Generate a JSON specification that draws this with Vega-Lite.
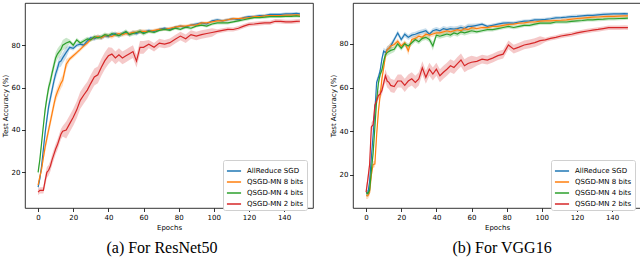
{
"$schema":"https://vega.github.io/schema/vega-lite/v6.json",
"padding":{"left":0,"top":2,"right":0,"bottom":0},
"config":{
 "font":"DejaVu Sans",
 "view":{"stroke":"#000","strokeWidth":0.8},
 "axis":{"grid":false,"labelFontSize":7,"titleFontSize":7,"titleFontWeight":"normal","labelColor":"#000","titleColor":"#000","tickColor":"#000","domain":false,"tickSize":3.5,"tickWidth":0.8,"labelPadding":1.5,"titlePadding":3},
 "legend":{"orient":"none","legendX":198,"legendY":157,"title":null,"labelFontSize":7,"labelColor":"#000","symbolType":"stroke","symbolSize":200,"symbolStrokeWidth":1.5,"symbolOpacity":1,"strokeColor":"#d0d0d0","fillColor":"#ffffff","cornerRadius":2,"padding":3,"rowPadding":-3,"labelOffset":5},
 "title":{"font":"Liberation Serif","fontSize":16,"fontWeight":"normal","color":"#000"},
 "concat":{"spacing":14}
},
"datasets":{
"a":[
{"s":"A","e":0,"y":13,"d":1.5},{"s":"A","e":1,"y":17,"d":1.5},{"s":"A","e":2,"y":23,"d":1.5},{"s":"A","e":3,"y":31,"d":1.5},{"s":"A","e":4,"y":38.6,"d":2.5},{"s":"A","e":5,"y":45,"d":2.5},{"s":"A","e":6,"y":51,"d":2.5},{"s":"A","e":7,"y":55,"d":2.5},{"s":"A","e":8,"y":59,"d":2.5},{"s":"A","e":9,"y":63,"d":2.5},{"s":"A","e":10,"y":66.5,"d":2.5},{"s":"A","e":11,"y":69,"d":2.5},{"s":"A","e":12,"y":72,"d":2.5},{"s":"A","e":13,"y":72.5,"d":2.5},{"s":"A","e":14,"y":74,"d":2.5},{"s":"A","e":16,"y":76.6,"d":2.5},{"s":"A","e":18,"y":79,"d":1},{"s":"A","e":20,"y":78.5,"d":1},{"s":"A","e":22,"y":80,"d":1},{"s":"A","e":24,"y":80.5,"d":1},{"s":"A","e":26,"y":80,"d":1},{"s":"A","e":28,"y":82,"d":1},{"s":"A","e":30,"y":83.5,"d":1},{"s":"A","e":32,"y":83,"d":1},{"s":"A","e":34,"y":84,"d":1},{"s":"A","e":36,"y":83.5,"d":1},{"s":"A","e":38,"y":84.5,"d":1},{"s":"A","e":40,"y":84,"d":1},{"s":"A","e":42,"y":85,"d":1},{"s":"A","e":44,"y":85.5,"d":1},{"s":"A","e":46,"y":84.5,"d":1},{"s":"A","e":48,"y":85.5,"d":1},{"s":"A","e":50,"y":86,"d":1},{"s":"A","e":52,"y":85,"d":1},{"s":"A","e":54,"y":86,"d":1},{"s":"A","e":56,"y":85.5,"d":1},{"s":"A","e":58,"y":86.5,"d":1},{"s":"A","e":60,"y":86,"d":1},{"s":"A","e":63,"y":87,"d":0.7},{"s":"A","e":66,"y":86.5,"d":0.7},{"s":"A","e":69,"y":87.5,"d":0.7},{"s":"A","e":72,"y":88,"d":0.7},{"s":"A","e":75,"y":87.5,"d":0.7},{"s":"A","e":78,"y":88.5,"d":0.7},{"s":"A","e":81,"y":89,"d":0.7},{"s":"A","e":84,"y":88.5,"d":0.7},{"s":"A","e":87,"y":89.5,"d":0.7},{"s":"A","e":90,"y":90,"d":0.7},{"s":"A","e":93,"y":90.5,"d":0.7},{"s":"A","e":96,"y":90,"d":0.7},{"s":"A","e":99,"y":91.5,"d":0.7},{"s":"A","e":102,"y":92,"d":0.7},{"s":"A","e":105,"y":91.5,"d":0.7},{"s":"A","e":108,"y":92,"d":0.7},{"s":"A","e":111,"y":92.5,"d":0.7},{"s":"A","e":114,"y":92,"d":0.7},{"s":"A","e":117,"y":93,"d":0.7},{"s":"A","e":120,"y":93.5,"d":0.7},{"s":"A","e":123,"y":93.5,"d":0.7},{"s":"A","e":126,"y":94,"d":0.7},{"s":"A","e":129,"y":94,"d":0.7},{"s":"A","e":132,"y":94.5,"d":0.7},{"s":"A","e":135,"y":94.5,"d":0.7},{"s":"A","e":138,"y":94.5,"d":0.7},{"s":"A","e":141,"y":94.8,"d":0.7},{"s":"A","e":144,"y":94.8,"d":0.7},{"s":"A","e":147,"y":95,"d":0.7},{"s":"A","e":149,"y":94.8,"d":0.7},
{"s":"B","e":0,"y":14,"d":1.5},{"s":"B","e":1,"y":18,"d":1.5},{"s":"B","e":2,"y":21.5,"d":1.5},{"s":"B","e":3,"y":27,"d":1.5},{"s":"B","e":4,"y":32,"d":2.5},{"s":"B","e":5,"y":36,"d":2.5},{"s":"B","e":6,"y":40,"d":2.5},{"s":"B","e":7,"y":44,"d":2.5},{"s":"B","e":8,"y":48,"d":2.5},{"s":"B","e":9,"y":52,"d":2.5},{"s":"B","e":10,"y":55.7,"d":2.5},{"s":"B","e":11,"y":58,"d":2.5},{"s":"B","e":12,"y":60,"d":2.5},{"s":"B","e":13,"y":62,"d":2.5},{"s":"B","e":14,"y":63.4,"d":2.5},{"s":"B","e":16,"y":71,"d":2.5},{"s":"B","e":18,"y":73.5,"d":1},{"s":"B","e":20,"y":75,"d":1},{"s":"B","e":22,"y":76.5,"d":1},{"s":"B","e":24,"y":78,"d":1},{"s":"B","e":26,"y":79.7,"d":1},{"s":"B","e":28,"y":81,"d":1},{"s":"B","e":30,"y":82.8,"d":1},{"s":"B","e":32,"y":83.5,"d":1},{"s":"B","e":34,"y":84,"d":1},{"s":"B","e":36,"y":83.5,"d":1},{"s":"B","e":38,"y":84.5,"d":1},{"s":"B","e":40,"y":84.5,"d":1},{"s":"B","e":42,"y":84,"d":1},{"s":"B","e":44,"y":85,"d":1},{"s":"B","e":46,"y":85.5,"d":1},{"s":"B","e":48,"y":85,"d":1},{"s":"B","e":50,"y":85.5,"d":1},{"s":"B","e":52,"y":85.5,"d":1},{"s":"B","e":54,"y":86,"d":1},{"s":"B","e":56,"y":86,"d":1},{"s":"B","e":58,"y":86.5,"d":1},{"s":"B","e":60,"y":86.5,"d":1},{"s":"B","e":63,"y":86.5,"d":0.7},{"s":"B","e":66,"y":87,"d":0.7},{"s":"B","e":69,"y":87.5,"d":0.7},{"s":"B","e":72,"y":87.5,"d":0.7},{"s":"B","e":75,"y":88,"d":0.7},{"s":"B","e":78,"y":88.5,"d":0.7},{"s":"B","e":81,"y":89,"d":0.7},{"s":"B","e":84,"y":89,"d":0.7},{"s":"B","e":87,"y":89.5,"d":0.7},{"s":"B","e":90,"y":89.5,"d":0.7},{"s":"B","e":93,"y":90.5,"d":0.7},{"s":"B","e":96,"y":90.5,"d":0.7},{"s":"B","e":99,"y":91,"d":0.7},{"s":"B","e":102,"y":91.5,"d":0.7},{"s":"B","e":105,"y":91.5,"d":0.7},{"s":"B","e":108,"y":92,"d":0.7},{"s":"B","e":111,"y":92.5,"d":0.7},{"s":"B","e":114,"y":92.5,"d":0.7},{"s":"B","e":117,"y":92.8,"d":0.7},{"s":"B","e":120,"y":93,"d":0.7},{"s":"B","e":123,"y":93.5,"d":0.7},{"s":"B","e":126,"y":93.5,"d":0.7},{"s":"B","e":129,"y":93.8,"d":0.7},{"s":"B","e":132,"y":94,"d":0.7},{"s":"B","e":135,"y":94,"d":0.7},{"s":"B","e":138,"y":94,"d":0.7},{"s":"B","e":141,"y":94.2,"d":0.7},{"s":"B","e":144,"y":94.2,"d":0.7},{"s":"B","e":147,"y":94.3,"d":0.7},{"s":"B","e":149,"y":94.2,"d":0.7},
{"s":"C","e":0,"y":20,"d":1.5},{"s":"C","e":1,"y":26,"d":1.5},{"s":"C","e":2,"y":34,"d":1.5},{"s":"C","e":3,"y":42,"d":1.5},{"s":"C","e":4,"y":49.5,"d":2.5},{"s":"C","e":5,"y":55,"d":2.5},{"s":"C","e":6,"y":60,"d":2.5},{"s":"C","e":7,"y":63,"d":2.5},{"s":"C","e":8,"y":67,"d":2.5},{"s":"C","e":9,"y":70.5,"d":2.5},{"s":"C","e":10,"y":74,"d":2.5},{"s":"C","e":11,"y":75.8,"d":2.5},{"s":"C","e":12,"y":77,"d":2.5},{"s":"C","e":13,"y":78,"d":2.5},{"s":"C","e":14,"y":80,"d":2.5},{"s":"C","e":16,"y":81,"d":2.5},{"s":"C","e":18,"y":81.7,"d":1},{"s":"C","e":20,"y":80,"d":1},{"s":"C","e":22,"y":82.5,"d":1},{"s":"C","e":24,"y":81,"d":1},{"s":"C","e":26,"y":82,"d":1},{"s":"C","e":28,"y":83,"d":1},{"s":"C","e":30,"y":82.5,"d":1},{"s":"C","e":32,"y":84,"d":1},{"s":"C","e":34,"y":83.5,"d":1},{"s":"C","e":36,"y":84,"d":1},{"s":"C","e":38,"y":85,"d":1},{"s":"C","e":40,"y":84.5,"d":1},{"s":"C","e":42,"y":85.5,"d":1},{"s":"C","e":44,"y":85,"d":1},{"s":"C","e":46,"y":84.5,"d":1},{"s":"C","e":48,"y":85.5,"d":1},{"s":"C","e":50,"y":86.5,"d":1},{"s":"C","e":52,"y":85,"d":1},{"s":"C","e":54,"y":85.5,"d":1},{"s":"C","e":56,"y":86,"d":1},{"s":"C","e":58,"y":86.5,"d":1},{"s":"C","e":60,"y":85.5,"d":1},{"s":"C","e":63,"y":86.5,"d":0.7},{"s":"C","e":66,"y":86,"d":0.7},{"s":"C","e":69,"y":87,"d":0.7},{"s":"C","e":72,"y":87.5,"d":0.7},{"s":"C","e":75,"y":87,"d":0.7},{"s":"C","e":78,"y":88,"d":0.7},{"s":"C","e":81,"y":87.5,"d":0.7},{"s":"C","e":84,"y":88.5,"d":0.7},{"s":"C","e":87,"y":88,"d":0.7},{"s":"C","e":90,"y":89,"d":0.7},{"s":"C","e":93,"y":89.5,"d":0.7},{"s":"C","e":96,"y":89,"d":0.7},{"s":"C","e":99,"y":90,"d":0.7},{"s":"C","e":102,"y":90.5,"d":0.7},{"s":"C","e":105,"y":90.5,"d":0.7},{"s":"C","e":108,"y":90.5,"d":0.7},{"s":"C","e":111,"y":91,"d":0.7},{"s":"C","e":114,"y":91.5,"d":0.7},{"s":"C","e":117,"y":92,"d":0.7},{"s":"C","e":120,"y":92.5,"d":0.7},{"s":"C","e":123,"y":93,"d":0.7},{"s":"C","e":126,"y":93,"d":0.7},{"s":"C","e":129,"y":93.2,"d":0.7},{"s":"C","e":132,"y":93.5,"d":0.7},{"s":"C","e":135,"y":93.5,"d":0.7},{"s":"C","e":138,"y":93.5,"d":0.7},{"s":"C","e":141,"y":93.6,"d":0.7},{"s":"C","e":144,"y":93.6,"d":0.7},{"s":"C","e":147,"y":93.8,"d":0.7},{"s":"C","e":149,"y":93.6,"d":0.7},
{"s":"D","e":0,"y":10.7,"d":1.5},{"s":"D","e":1,"y":11.5,"d":1.5},{"s":"D","e":2,"y":11.5,"d":1.5},{"s":"D","e":3,"y":11.5,"d":1.5},{"s":"D","e":4,"y":16,"d":2.5},{"s":"D","e":5,"y":20,"d":2.5},{"s":"D","e":6,"y":21,"d":2.5},{"s":"D","e":7,"y":23,"d":2.5},{"s":"D","e":8,"y":26,"d":2.5},{"s":"D","e":9,"y":28.5,"d":2.5},{"s":"D","e":10,"y":31,"d":2.5},{"s":"D","e":11,"y":33,"d":2.5},{"s":"D","e":12,"y":35.5,"d":2.5},{"s":"D","e":13,"y":38,"d":2.5},{"s":"D","e":14,"y":39.4,"d":2.5},{"s":"D","e":16,"y":40,"d":4},{"s":"D","e":18,"y":43,"d":4},{"s":"D","e":20,"y":46,"d":4},{"s":"D","e":22,"y":49.5,"d":4},{"s":"D","e":24,"y":54,"d":4},{"s":"D","e":26,"y":56.5,"d":4},{"s":"D","e":28,"y":58.8,"d":4},{"s":"D","e":30,"y":62,"d":4},{"s":"D","e":32,"y":65,"d":4},{"s":"D","e":34,"y":66,"d":4},{"s":"D","e":36,"y":69.6,"d":4},{"s":"D","e":38,"y":72.7,"d":4},{"s":"D","e":40,"y":75,"d":4},{"s":"D","e":42,"y":75.8,"d":3},{"s":"D","e":44,"y":74,"d":3},{"s":"D","e":46,"y":75.5,"d":3},{"s":"D","e":48,"y":74,"d":3},{"s":"D","e":50,"y":75,"d":3},{"s":"D","e":52,"y":76,"d":3},{"s":"D","e":54,"y":77,"d":3},{"s":"D","e":56,"y":72.5,"d":3},{"s":"D","e":58,"y":79,"d":3},{"s":"D","e":60,"y":79,"d":3},{"s":"D","e":63,"y":80.5,"d":2},{"s":"D","e":66,"y":79,"d":2},{"s":"D","e":69,"y":81,"d":2},{"s":"D","e":72,"y":80.5,"d":2},{"s":"D","e":75,"y":81.2,"d":2},{"s":"D","e":78,"y":82.8,"d":2},{"s":"D","e":81,"y":84.3,"d":2},{"s":"D","e":84,"y":83,"d":2},{"s":"D","e":87,"y":85,"d":2},{"s":"D","e":90,"y":84.3,"d":2},{"s":"D","e":93,"y":85,"d":2},{"s":"D","e":96,"y":85.5,"d":2},{"s":"D","e":99,"y":86,"d":2},{"s":"D","e":102,"y":86.5,"d":1},{"s":"D","e":105,"y":87,"d":1},{"s":"D","e":108,"y":87.5,"d":1},{"s":"D","e":111,"y":87.4,"d":1},{"s":"D","e":114,"y":88,"d":1},{"s":"D","e":117,"y":89,"d":1},{"s":"D","e":120,"y":89.8,"d":1},{"s":"D","e":123,"y":90,"d":1},{"s":"D","e":126,"y":90.3,"d":1},{"s":"D","e":129,"y":90.5,"d":1},{"s":"D","e":132,"y":90.5,"d":1},{"s":"D","e":135,"y":91.3,"d":1},{"s":"D","e":138,"y":91.2,"d":1},{"s":"D","e":141,"y":91,"d":1},{"s":"D","e":144,"y":91,"d":1},{"s":"D","e":147,"y":91.2,"d":1},{"s":"D","e":149,"y":91.3,"d":1}
],
"b":[
{"s":"A","e":0,"y":12,"d":1.5},{"s":"A","e":1,"y":11.5,"d":1.5},{"s":"A","e":2,"y":17,"d":1.5},{"s":"A","e":3,"y":28,"d":1.5},{"s":"A","e":4,"y":38.3,"d":1.5},{"s":"A","e":5,"y":49,"d":1.5},{"s":"A","e":6,"y":62.4,"d":1.5},{"s":"A","e":7,"y":64.7,"d":1.5},{"s":"A","e":8,"y":67.7,"d":1.5},{"s":"A","e":9,"y":73,"d":1.5},{"s":"A","e":10,"y":76.7,"d":1.5},{"s":"A","e":11,"y":76,"d":1.5},{"s":"A","e":12,"y":77.4,"d":1.5},{"s":"A","e":13,"y":78,"d":1.5},{"s":"A","e":14,"y":79,"d":1.5},{"s":"A","e":16,"y":82,"d":1.2},{"s":"A","e":18,"y":85,"d":1.2},{"s":"A","e":20,"y":82,"d":1.2},{"s":"A","e":22,"y":84.4,"d":1.2},{"s":"A","e":24,"y":83,"d":1.2},{"s":"A","e":26,"y":84,"d":1.2},{"s":"A","e":28,"y":84.4,"d":1.2},{"s":"A","e":30,"y":85,"d":1.2},{"s":"A","e":32,"y":85.5,"d":1.2},{"s":"A","e":34,"y":86,"d":1.2},{"s":"A","e":36,"y":84.4,"d":1.2},{"s":"A","e":38,"y":86,"d":1.2},{"s":"A","e":40,"y":86.5,"d":1.2},{"s":"A","e":42,"y":86,"d":1.2},{"s":"A","e":44,"y":87,"d":1.2},{"s":"A","e":46,"y":86.5,"d":1.2},{"s":"A","e":48,"y":87,"d":1.2},{"s":"A","e":50,"y":86.8,"d":1.2},{"s":"A","e":52,"y":87,"d":1.2},{"s":"A","e":54,"y":87.5,"d":1.2},{"s":"A","e":56,"y":87,"d":1.2},{"s":"A","e":58,"y":88,"d":1.2},{"s":"A","e":60,"y":88,"d":1.2},{"s":"A","e":63,"y":88.5,"d":0.8},{"s":"A","e":66,"y":89,"d":0.8},{"s":"A","e":69,"y":88,"d":0.8},{"s":"A","e":72,"y":88.5,"d":0.8},{"s":"A","e":75,"y":89,"d":0.8},{"s":"A","e":78,"y":89.5,"d":0.8},{"s":"A","e":81,"y":89.6,"d":0.8},{"s":"A","e":84,"y":89.5,"d":0.8},{"s":"A","e":87,"y":90,"d":0.8},{"s":"A","e":90,"y":90.4,"d":0.8},{"s":"A","e":93,"y":90.5,"d":0.8},{"s":"A","e":96,"y":91,"d":0.8},{"s":"A","e":99,"y":91,"d":0.8},{"s":"A","e":102,"y":91.2,"d":0.8},{"s":"A","e":105,"y":91.5,"d":0.8},{"s":"A","e":108,"y":91.9,"d":0.8},{"s":"A","e":111,"y":92,"d":0.8},{"s":"A","e":114,"y":92.2,"d":0.8},{"s":"A","e":117,"y":92.5,"d":0.8},{"s":"A","e":120,"y":92.6,"d":0.8},{"s":"A","e":123,"y":92.8,"d":0.8},{"s":"A","e":126,"y":93,"d":0.8},{"s":"A","e":129,"y":93,"d":0.8},{"s":"A","e":132,"y":93.3,"d":0.8},{"s":"A","e":135,"y":93.5,"d":0.8},{"s":"A","e":138,"y":93.6,"d":0.8},{"s":"A","e":141,"y":93.7,"d":0.8},{"s":"A","e":144,"y":93.7,"d":0.8},{"s":"A","e":147,"y":93.8,"d":0.8},{"s":"A","e":149,"y":93.7,"d":0.8},
{"s":"B","e":0,"y":10.5,"d":1.5},{"s":"B","e":1,"y":10.5,"d":1.5},{"s":"B","e":2,"y":12,"d":1.5},{"s":"B","e":3,"y":20,"d":1.5},{"s":"B","e":4,"y":24.8,"d":1.5},{"s":"B","e":5,"y":25,"d":1.5},{"s":"B","e":6,"y":38.3,"d":1.5},{"s":"B","e":7,"y":49,"d":1.5},{"s":"B","e":8,"y":56.4,"d":1.5},{"s":"B","e":9,"y":64,"d":1.5},{"s":"B","e":10,"y":69,"d":1.5},{"s":"B","e":11,"y":74.4,"d":1.5},{"s":"B","e":12,"y":77.4,"d":1.5},{"s":"B","e":13,"y":78,"d":1.5},{"s":"B","e":14,"y":79,"d":1.5},{"s":"B","e":16,"y":79.7,"d":1.2},{"s":"B","e":18,"y":81.2,"d":1.2},{"s":"B","e":20,"y":79,"d":1.2},{"s":"B","e":22,"y":80.5,"d":1.2},{"s":"B","e":24,"y":76.8,"d":2},{"s":"B","e":26,"y":82,"d":1.2},{"s":"B","e":28,"y":82.5,"d":1.2},{"s":"B","e":30,"y":83.5,"d":1.2},{"s":"B","e":32,"y":83,"d":1.2},{"s":"B","e":34,"y":84.4,"d":1.2},{"s":"B","e":36,"y":84,"d":1.2},{"s":"B","e":38,"y":84.5,"d":1.2},{"s":"B","e":40,"y":85,"d":1.2},{"s":"B","e":42,"y":85,"d":1.2},{"s":"B","e":44,"y":85.5,"d":1.2},{"s":"B","e":46,"y":86,"d":1.2},{"s":"B","e":48,"y":85.5,"d":1.2},{"s":"B","e":50,"y":86,"d":1.2},{"s":"B","e":52,"y":86.5,"d":1.2},{"s":"B","e":54,"y":86,"d":1.2},{"s":"B","e":56,"y":87,"d":1.2},{"s":"B","e":58,"y":86.5,"d":1.2},{"s":"B","e":60,"y":87.4,"d":1.2},{"s":"B","e":63,"y":87,"d":0.8},{"s":"B","e":66,"y":87.5,"d":0.8},{"s":"B","e":69,"y":87.4,"d":0.8},{"s":"B","e":72,"y":88,"d":0.8},{"s":"B","e":75,"y":88,"d":0.8},{"s":"B","e":78,"y":88.5,"d":0.8},{"s":"B","e":81,"y":88.9,"d":0.8},{"s":"B","e":84,"y":89,"d":0.8},{"s":"B","e":87,"y":89.5,"d":0.8},{"s":"B","e":90,"y":89.6,"d":0.8},{"s":"B","e":93,"y":90,"d":0.8},{"s":"B","e":96,"y":90,"d":0.8},{"s":"B","e":99,"y":90.4,"d":0.8},{"s":"B","e":102,"y":90.5,"d":0.8},{"s":"B","e":105,"y":90.5,"d":0.8},{"s":"B","e":108,"y":90.7,"d":0.8},{"s":"B","e":111,"y":90.8,"d":0.8},{"s":"B","e":114,"y":91,"d":0.8},{"s":"B","e":117,"y":91.3,"d":0.8},{"s":"B","e":120,"y":91.6,"d":0.8},{"s":"B","e":123,"y":91.8,"d":0.8},{"s":"B","e":126,"y":92,"d":0.8},{"s":"B","e":129,"y":92.2,"d":0.8},{"s":"B","e":132,"y":92.3,"d":0.8},{"s":"B","e":135,"y":92.5,"d":0.8},{"s":"B","e":138,"y":92.6,"d":0.8},{"s":"B","e":141,"y":92.6,"d":0.8},{"s":"B","e":144,"y":92.7,"d":0.8},{"s":"B","e":147,"y":92.8,"d":0.8},{"s":"B","e":149,"y":92.8,"d":0.8},
{"s":"C","e":0,"y":12,"d":1.5},{"s":"C","e":1,"y":11.5,"d":1.5},{"s":"C","e":2,"y":13,"d":1.5},{"s":"C","e":3,"y":22,"d":1.5},{"s":"C","e":4,"y":30,"d":1.5},{"s":"C","e":5,"y":42,"d":1.5},{"s":"C","e":6,"y":54,"d":1.5},{"s":"C","e":7,"y":62,"d":1.5},{"s":"C","e":8,"y":66,"d":1.5},{"s":"C","e":9,"y":68,"d":1.5},{"s":"C","e":10,"y":72,"d":1.5},{"s":"C","e":11,"y":75,"d":1.5},{"s":"C","e":12,"y":76,"d":1.5},{"s":"C","e":13,"y":76.5,"d":1.5},{"s":"C","e":14,"y":77,"d":1.5},{"s":"C","e":16,"y":77.5,"d":1.2},{"s":"C","e":18,"y":80,"d":1.2},{"s":"C","e":20,"y":78,"d":1.2},{"s":"C","e":22,"y":80,"d":1.2},{"s":"C","e":24,"y":79,"d":1.2},{"s":"C","e":26,"y":80.5,"d":1.2},{"s":"C","e":28,"y":82,"d":1.2},{"s":"C","e":30,"y":81,"d":1.2},{"s":"C","e":32,"y":82.5,"d":1.2},{"s":"C","e":34,"y":83,"d":1.2},{"s":"C","e":36,"y":82,"d":1.2},{"s":"C","e":38,"y":79,"d":2},{"s":"C","e":40,"y":84,"d":1.2},{"s":"C","e":42,"y":83.5,"d":1.2},{"s":"C","e":44,"y":84,"d":1.2},{"s":"C","e":46,"y":84.5,"d":1.2},{"s":"C","e":48,"y":84,"d":1.2},{"s":"C","e":50,"y":85,"d":1.2},{"s":"C","e":52,"y":84.5,"d":1.2},{"s":"C","e":54,"y":85.5,"d":1.2},{"s":"C","e":56,"y":85,"d":1.2},{"s":"C","e":58,"y":85.5,"d":1.2},{"s":"C","e":60,"y":86,"d":1.2},{"s":"C","e":63,"y":85.5,"d":0.8},{"s":"C","e":66,"y":86,"d":0.8},{"s":"C","e":69,"y":86.5,"d":0.8},{"s":"C","e":72,"y":86.5,"d":0.8},{"s":"C","e":75,"y":87,"d":0.8},{"s":"C","e":78,"y":87.5,"d":0.8},{"s":"C","e":81,"y":88,"d":0.8},{"s":"C","e":84,"y":87.5,"d":0.8},{"s":"C","e":87,"y":88,"d":0.8},{"s":"C","e":90,"y":88.5,"d":0.8},{"s":"C","e":93,"y":88.5,"d":0.8},{"s":"C","e":96,"y":89,"d":0.8},{"s":"C","e":99,"y":89.5,"d":0.8},{"s":"C","e":102,"y":89.5,"d":0.8},{"s":"C","e":105,"y":89.5,"d":0.8},{"s":"C","e":108,"y":90,"d":0.8},{"s":"C","e":111,"y":90,"d":0.8},{"s":"C","e":114,"y":90,"d":0.8},{"s":"C","e":117,"y":90.3,"d":0.8},{"s":"C","e":120,"y":90.5,"d":0.8},{"s":"C","e":123,"y":90.7,"d":0.8},{"s":"C","e":126,"y":91,"d":0.8},{"s":"C","e":129,"y":91,"d":0.8},{"s":"C","e":132,"y":91.2,"d":0.8},{"s":"C","e":135,"y":91.3,"d":0.8},{"s":"C","e":138,"y":91.5,"d":0.8},{"s":"C","e":141,"y":91.5,"d":0.8},{"s":"C","e":144,"y":91.6,"d":0.8},{"s":"C","e":147,"y":91.7,"d":0.8},{"s":"C","e":149,"y":91.8,"d":0.8},
{"s":"D","e":0,"y":12.2,"d":2},{"s":"D","e":1,"y":18,"d":2},{"s":"D","e":2,"y":24.8,"d":2},{"s":"D","e":3,"y":42,"d":2},{"s":"D","e":4,"y":43,"d":2},{"s":"D","e":5,"y":52,"d":2},{"s":"D","e":6,"y":54,"d":2},{"s":"D","e":7,"y":56.4,"d":2},{"s":"D","e":8,"y":57,"d":2},{"s":"D","e":9,"y":58.6,"d":2},{"s":"D","e":10,"y":62,"d":2},{"s":"D","e":11,"y":65.4,"d":3},{"s":"D","e":12,"y":63,"d":3},{"s":"D","e":13,"y":62.4,"d":3},{"s":"D","e":14,"y":61,"d":3},{"s":"D","e":16,"y":60.5,"d":3},{"s":"D","e":18,"y":63,"d":3},{"s":"D","e":20,"y":63,"d":3},{"s":"D","e":22,"y":61,"d":3},{"s":"D","e":24,"y":63,"d":3},{"s":"D","e":26,"y":64,"d":3},{"s":"D","e":28,"y":62.4,"d":3},{"s":"D","e":30,"y":64,"d":3},{"s":"D","e":32,"y":69,"d":3},{"s":"D","e":34,"y":64.7,"d":3},{"s":"D","e":36,"y":68.4,"d":3},{"s":"D","e":38,"y":66.2,"d":3},{"s":"D","e":40,"y":68.4,"d":3},{"s":"D","e":42,"y":65.4,"d":3},{"s":"D","e":44,"y":67,"d":3},{"s":"D","e":46,"y":68.4,"d":3},{"s":"D","e":48,"y":70,"d":3},{"s":"D","e":50,"y":69.2,"d":3},{"s":"D","e":52,"y":71,"d":3},{"s":"D","e":54,"y":72.6,"d":3},{"s":"D","e":56,"y":70,"d":3},{"s":"D","e":58,"y":71,"d":3},{"s":"D","e":60,"y":71.6,"d":3},{"s":"D","e":63,"y":72,"d":2},{"s":"D","e":66,"y":73,"d":2},{"s":"D","e":69,"y":72.6,"d":2},{"s":"D","e":72,"y":73.5,"d":2},{"s":"D","e":75,"y":74.6,"d":2},{"s":"D","e":78,"y":75.3,"d":2},{"s":"D","e":81,"y":79.5,"d":2},{"s":"D","e":84,"y":77.6,"d":2},{"s":"D","e":87,"y":78.5,"d":2},{"s":"D","e":90,"y":79.5,"d":2},{"s":"D","e":93,"y":80,"d":2},{"s":"D","e":96,"y":80.6,"d":2},{"s":"D","e":99,"y":81.5,"d":2},{"s":"D","e":102,"y":81.8,"d":1},{"s":"D","e":105,"y":82.5,"d":1},{"s":"D","e":108,"y":83,"d":1},{"s":"D","e":111,"y":83.6,"d":1},{"s":"D","e":114,"y":84,"d":1},{"s":"D","e":117,"y":84.4,"d":1},{"s":"D","e":120,"y":85,"d":1},{"s":"D","e":123,"y":85.5,"d":1},{"s":"D","e":126,"y":85.9,"d":1},{"s":"D","e":129,"y":86.3,"d":1},{"s":"D","e":132,"y":86.6,"d":1},{"s":"D","e":135,"y":87,"d":1},{"s":"D","e":138,"y":87.4,"d":1},{"s":"D","e":141,"y":87.4,"d":1},{"s":"D","e":144,"y":87.4,"d":1},{"s":"D","e":147,"y":87.5,"d":1},{"s":"D","e":149,"y":87.4,"d":1}
]
},
"resolve":{"legend":{"color":"independent"},"scale":{"color":"independent"}},
"hconcat":[
{"width":288,"height":205,
 "title":{"text":"(a) For ResNet50","orient":"bottom","anchor":"middle","frame":"group","offset":10,"dx":-7},
 "data":{"name":"a"},
 "encoding":{"x":{"field":"e","type":"quantitative","scale":{"domain":[-7.45,156.45],"nice":false,"zero":false},"axis":{"title":"Epochs","values":[0,20,40,60,80,100,120,140]}},
  "color":{"field":"s","type":"nominal","scale":{"domain":["A","B","C","D"],"range":["#1f77b4","#ff7f0e","#2ca02c","#d62728"]},"legend":{"symbolOpacity":1,"labelExpr":"{'A':'AllReduce SGD','B':'QSGD-MN 8 bits','C':'QSGD-MN 4 bits','D':'QSGD-MN 2 bits'}[datum.label]"}}},
 "layer":[
  {"mark":{"type":"errorband","opacity":0.25},"encoding":{"y":{"field":"y","type":"quantitative","scale":{"domain":[3.2,99.9],"nice":false,"zero":false},"axis":{"title":"Test Accuracy (%)","values":[20,40,60,80]}},"yError":{"field":"d"}}},
  {"mark":{"type":"line","strokeWidth":1.2},"encoding":{"y":{"field":"y","type":"quantitative"}}}
 ]
},
{"width":288,"height":205,
 "title":{"text":"(b) For VGG16","orient":"bottom","anchor":"middle","frame":"group","offset":10,"dx":5},
 "data":{"name":"b"},
 "encoding":{"x":{"field":"e","type":"quantitative","scale":{"domain":[-7.45,156.45],"nice":false,"zero":false},"axis":{"title":"Epochs","values":[0,20,40,60,80,100,120,140]}},
  "color":{"field":"s","type":"nominal","scale":{"domain":["A","B","C","D"],"range":["#1f77b4","#ff7f0e","#2ca02c","#d62728"]},"legend":{"symbolOpacity":1,"labelExpr":"{'A':'AllReduce SGD','B':'QSGD-MN 8 bits','C':'QSGD-MN 4 bits','D':'QSGD-MN 2 bits'}[datum.label]"}}},
 "layer":[
  {"mark":{"type":"errorband","opacity":0.25},"encoding":{"y":{"field":"y","type":"quantitative","scale":{"domain":[4.9,98.7],"nice":false,"zero":false},"axis":{"title":"Test Accuracy (%)","values":[20,40,60,80]}},"yError":{"field":"d"}}},
  {"mark":{"type":"line","strokeWidth":1.2},"encoding":{"y":{"field":"y","type":"quantitative"}}}
 ]
}
]
}
